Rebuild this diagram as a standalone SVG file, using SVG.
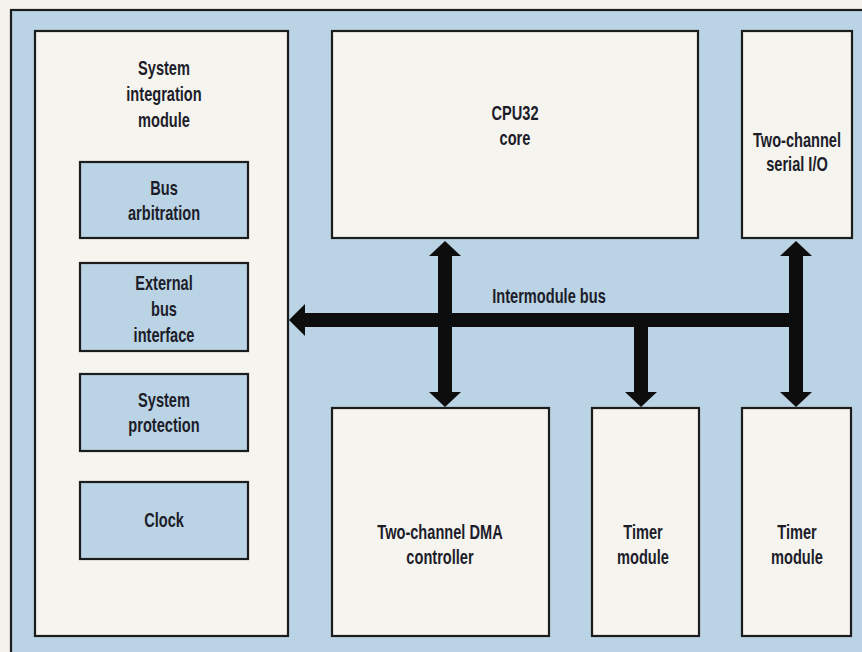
<svg xmlns="http://www.w3.org/2000/svg" width="862" height="652" viewBox="0 0 862 652">
<style>
.bg{fill:#f3f2ed}
.frame{fill:#bad4e5;stroke:#1c1c1c;stroke-width:2.2}
.box{fill:#f5f4ef;stroke:#1c1c1c;stroke-width:2.2}
.sub{fill:#bad4e5;stroke:#1c1c1c;stroke-width:2.2}
.lbl{font-family:"Liberation Sans",Arial,sans-serif;font-weight:bold;font-size:20px;fill:#1d1d2a;text-anchor:middle}
.arr{fill:#0d0d0d}
</style>
<rect class="bg" x="0" y="0" width="862" height="652"/>
<rect class="frame" x="11" y="10" width="870" height="660"/>

<g id="sim">
<rect class="box" x="35" y="31" width="253" height="605"/>
<text class="lbl" transform="translate(164 0) scale(0.73 1)"><tspan x="0" y="75">System</tspan><tspan x="0" y="101">integration</tspan><tspan x="0" y="127">module</tspan></text>
</g>
<g id="bus-arbitration">
<rect class="sub" x="80" y="162" width="168" height="76"/>
<text class="lbl" transform="translate(164 0) scale(0.73 1)"><tspan x="0" y="195">Bus</tspan><tspan x="0" y="220">arbitration</tspan></text>
</g>
<g id="external-bus-interface">
<rect class="sub" x="80" y="263" width="168" height="88"/>
<text class="lbl" transform="translate(164 0) scale(0.73 1)"><tspan x="0" y="290">External</tspan><tspan x="0" y="316">bus</tspan><tspan x="0" y="342">interface</tspan></text>
</g>
<g id="system-protection">
<rect class="sub" x="80" y="374" width="168" height="77"/>
<text class="lbl" transform="translate(164 0) scale(0.73 1)"><tspan x="0" y="407">System</tspan><tspan x="0" y="432">protection</tspan></text>
</g>
<g id="clock">
<rect class="sub" x="80" y="482" width="168" height="77"/>
<text class="lbl" transform="translate(164 0) scale(0.73 1)"><tspan x="0" y="527">Clock</tspan></text>
</g>

<g id="cpu32">
<rect class="box" x="332" y="31" width="366" height="207"/>
<text class="lbl" transform="translate(515 0) scale(0.73 1)"><tspan x="0" y="120">CPU32</tspan><tspan x="0" y="145">core</tspan></text>
</g>
<g id="serial-io">
<rect class="box" x="742" y="31" width="110" height="207"/>
<text class="lbl" transform="translate(797 0) scale(0.73 1)"><tspan x="0" y="147">Two-channel</tspan><tspan x="0" y="171">serial I/O</tspan></text>
</g>
<g id="dma">
<rect class="box" x="332" y="408" width="217" height="228"/>
<text class="lbl" transform="translate(440 0) scale(0.73 1)"><tspan x="0" y="539">Two-channel DMA</tspan><tspan x="0" y="564">controller</tspan></text>
</g>
<g id="timer1">
<rect class="box" x="592" y="408" width="107" height="228"/>
<text class="lbl" transform="translate(643 0) scale(0.73 1)"><tspan x="0" y="539">Timer</tspan><tspan x="0" y="564">module</tspan></text>
</g>
<g id="timer2">
<rect class="box" x="742" y="408" width="109" height="228"/>
<text class="lbl" transform="translate(797 0) scale(0.73 1)"><tspan x="0" y="539">Timer</tspan><tspan x="0" y="564">module</tspan></text>
</g>

<g id="connectors">
<polygon class="arr" points="289,320 305,304 305,313 803,313 803,327 305,327 305,336"/>
<polygon class="arr" points="445,241 461,256 452,256 452,392 461,392 445,407 429,392 438,392 438,256 429,256"/>
<polygon class="arr" points="796,241 812,256 803,256 803,392 812,392 796,407 780,392 789,392 789,256 780,256"/>
<polygon class="arr" points="634,326 648,326 648,392 657,392 641,407 625,392 634,392"/>
<text class="lbl" transform="translate(549 0) scale(0.73 1)"><tspan x="0" y="303">Intermodule bus</tspan></text>
</g>
</svg>
